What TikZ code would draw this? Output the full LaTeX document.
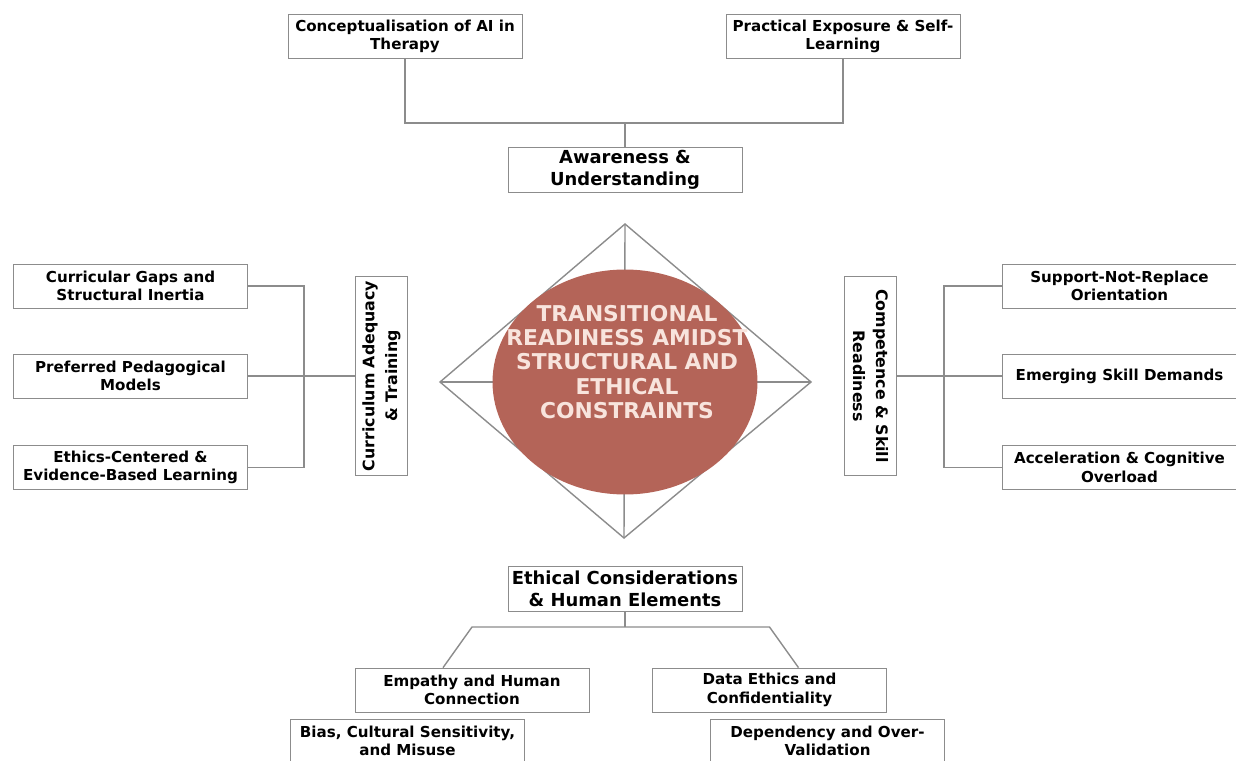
\documentclass[tikz,border=0pt]{standalone}
\usepackage{fontspec}
\setmainfont{DejaVu Sans}
\usepackage{xcolor}
\usetikzlibrary{positioning,shapes.geometric,calc}
\definecolor{hubfill}{HTML}{B46458}
\definecolor{hubtext}{HTML}{F8E4DD}
\definecolor{rule}{HTML}{8C8C8C}

\begin{document}
\begin{tikzpicture}[
    x=0.02cm, y=-0.02cm,
    leaf/.style={draw=rule, fill=white, minimum width=4.68cm, minimum height=0.88cm,
                 inner sep=1pt, align=center, font=\fontsize{8.6}{10.6}\selectfont\bfseries},
    theme/.style={leaf, minimum height=0.9cm, font=\fontsize{10.2}{12.6}\selectfont\bfseries},
    sidetheme/.style={draw=rule, fill=white, minimum width=3.98cm, minimum height=1.04cm,
                 inner sep=1pt, align=center, font=\fontsize{9}{13}\selectfont\bfseries},
    link/.style={rule, line width=0.8pt},
    hub/.style={ellipse, fill=hubfill, minimum width=5.3cm, minimum height=4.5cm, inner sep=0pt},
    hubtxt/.style={text=hubtext, align=center, font=\fontsize{12.4}{13.8}\selectfont\bfseries},
]
\clip (0,0) rectangle (1236,760);
% pixel grid: x to the right, y downwards, page is 1236 x 760

% ---------------- centre ----------------
\coordinate (dtop) at (625,224);
\coordinate (dright) at (811,382);
\coordinate (dbot) at (624,538);
\coordinate (dleft) at (440,382);
\draw[link] (dtop) -- (dright) -- (dbot) -- (dleft) -- cycle;
\draw[link] (dtop) -- (dbot);
\draw[link] (dleft) -- (dright);
\node[hub] (hub) at (625,382) {};
\node[hubtxt] (hubt) at (627,362) {TRANSITIONAL\\READINESS AMIDST\\STRUCTURAL AND\\ETHICAL\\CONSTRAINTS};

% ---------------- top ----------------
\node[leaf] (conc) at (405,36.5) {Conceptualisation of AI in\\Therapy};
\node[leaf] (prac) at (843,36.5) {Practical Exposure \& Self-\\Learning};
\node[theme] (aware) at (625,169.5) {Awareness \&\\Understanding};
\coordinate (topj) at (625,123);
\draw[link] (conc.south) |- (topj) -| (prac.south);
\draw[link] (topj) -- (aware.north);

% ---------------- left ----------------
\node[leaf] (gaps) at (130.5,286) {Curricular Gaps and\\Structural Inertia};
\node[leaf] (pref) at (130.5,376) {Preferred Pedagogical\\Models};
\node[leaf] (ethc) at (130.5,467.5) {Ethics-Centered \&\\Evidence-Based Learning};
\node[sidetheme, rotate=90] (cur) at (381.5,376) {Curriculum Adequacy\\\& Training};
\coordinate (lbar) at (304,376);
\draw[link] (gaps.east) -| (lbar) |- (ethc.east);
\draw[link] (pref) -- (cur);

% ---------------- right ----------------
\node[sidetheme, rotate=-90] (comp) at (870.5,376) {Competence \& Skill\\Readiness};
\node[leaf] (supp) at (1119.5,286) {Support-Not-Replace\\Orientation};
\node[leaf] (emerg) at (1119.5,376) {Emerging Skill Demands};
\node[leaf] (accel) at (1119.5,467.5) {Acceleration \& Cognitive\\Overload};
\coordinate (rbar) at (944,376);
\draw[link] (supp.west) -| (rbar) |- (accel.west);
\draw[link] (comp) -- (emerg);

% ---------------- bottom ----------------
\node[theme] (ethic) at (625,588.5) {Ethical Considerations\\\& Human Elements};
\node[leaf] (emp) at (472,690) {Empathy and Human\\Connection};
\node[leaf] (data) at (769.5,690) {Data Ethics and\\Confidentiality};
\node[leaf, font=\fontsize{8.6}{10}\selectfont\bfseries] (bias) at (407.5,741) {Bias, Cultural Sensitivity,\\and Misuse};
\node[leaf, font=\fontsize{8.6}{10}\selectfont\bfseries] (dep) at (827.5,741) {Dependency and Over-\\Validation};
\coordinate (botj) at (625,627);
\draw[link] (ethic.south) -- (botj);
\draw[link] ($(emp.north)+(-29,0)$) -- (emp.north |- botj) -- (data.north |- botj) -- ($(data.north)+(29,0)$);
\end{tikzpicture}
\end{document}
